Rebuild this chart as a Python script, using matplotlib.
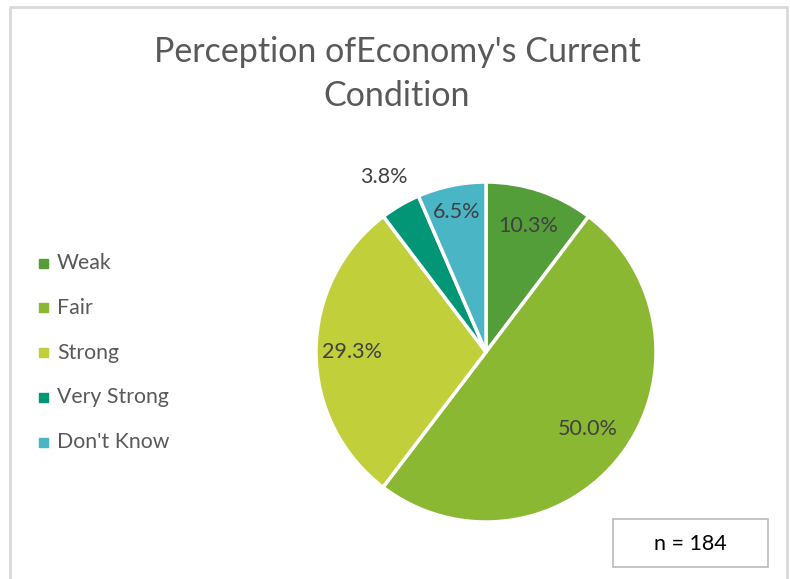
import matplotlib

matplotlib.use("Agg")
import matplotlib.pyplot as plt
import numpy as np
from matplotlib.patches import Rectangle

categories = ["Weak", "Fair", "Strong", "Very Strong", "Don't Know"]
shares = [10.3, 50.0, 29.3, 3.8, 6.5]
sample_size = 184
title = "Perception ofEconomy's Current\nCondition"

colors = ["#549E39", "#8AB833", "#C0CF3A", "#029676", "#4AB5C4"]
label_dist = [0.78, 0.75, 0.79, 1.19, 0.84]

plt.rcParams["font.family"] = ["Lato", "DejaVu Sans"]

W, H = 790, 579
fig = plt.figure(figsize=(W / 100, H / 100), dpi=100)

# outer chart frame (no bottom edge visible)
frame = fig.add_axes([0, 0, 1, 1])
frame.set_xlim(0, W)
frame.set_ylim(H, 0)
frame.axis("off")
frame.plot([10, 10, 787, 787], [H + 5, 7, 7, H + 5], color="#D9D9D9", lw=2)

frame.text(397, 74, title, ha="center", va="center", fontsize=24.5,
           color="#595959", linespacing=1.45)

# n box
frame.add_patch(Rectangle((613, 519), 155, 48, fill=False, edgecolor="#BFBFBF", lw=1.3))
frame.text(690, 544, f"n = {sample_size}", ha="center", va="center", fontsize=15.5, color="#000000")

# legend
for i, (name, c) in enumerate(zip(categories, colors)):
    y = 263 + i * 44.8
    frame.add_patch(Rectangle((39, y - 4.5), 9, 9, color=c))
    frame.text(57, y, name, ha="left", va="center", fontsize=15.3, color="#595959")

# pie
cx, cy, r = 486, 352, 170
ax = fig.add_axes([(cx - r) / W, (H - cy - r) / H, 2 * r / W, 2 * r / H])
wedges, _ = ax.pie(shares, colors=colors, startangle=90, counterclock=False,
                   wedgeprops=dict(edgecolor="white", linewidth=2.5))
ax.set_xlim(-1, 1)
ax.set_ylim(-1, 1)
ax.set_aspect("equal")

for w, v, d in zip(wedges, shares, label_dist):
    mid = np.deg2rad((w.theta1 + w.theta2) / 2)
    ax.text(d * np.cos(mid), d * np.sin(mid), f"{v:.1f}%", ha="center", va="center",
            fontsize=15.5, color="#404040", clip_on=False)

fig.savefig("out.png", dpi=100)
